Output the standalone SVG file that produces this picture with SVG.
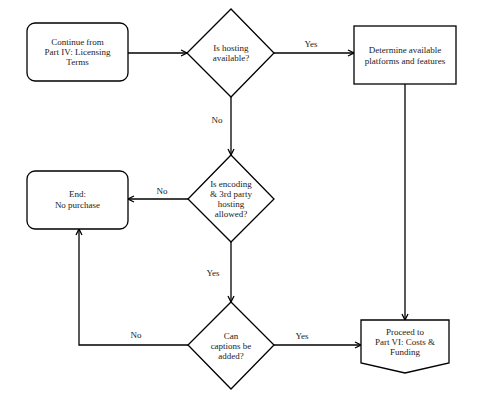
<svg xmlns="http://www.w3.org/2000/svg" width="479" height="404" viewBox="0 0 479 404">
<style>
.s{fill:#fff;stroke:#000;stroke-width:1.3}
.c{fill:none;stroke:#000;stroke-width:1.3}
text{font-family:"Liberation Serif","Times New Roman",serif;font-size:9px;fill:#222;text-anchor:middle}
</style>
<defs>
<marker id="a" markerWidth="8" markerHeight="8" refX="7" refY="4" orient="auto" markerUnits="userSpaceOnUse">
<path d="M1,1 L7,4 L1,7" fill="none" stroke="#000" stroke-width="1.3"/>
</marker>
</defs>
<rect width="479" height="404" fill="#fff"/>
<g id="connectors">
<line class="c" x1="128" y1="53" x2="187" y2="53" marker-end="url(#a)"/>
<line class="c" x1="274" y1="53" x2="354" y2="53" marker-end="url(#a)"/>
<text x="311" y="47">Yes</text>
<line class="c" x1="405" y1="84" x2="405" y2="320" marker-end="url(#a)"/>
<line class="c" x1="231" y1="97" x2="231" y2="155" marker-end="url(#a)"/>
<text x="217" y="123">No</text>
<line class="c" x1="188" y1="199" x2="128" y2="199" marker-end="url(#a)"/>
<text x="162" y="194">No</text>
<line class="c" x1="231" y1="242" x2="231" y2="302" marker-end="url(#a)"/>
<text x="213" y="276">Yes</text>
<polyline class="c" points="188,345 79,345 79,229" marker-end="url(#a)"/>
<text x="136" y="338">No</text>
<line class="c" x1="274" y1="345" x2="361" y2="345" marker-end="url(#a)"/>
<text x="302" y="339">Yes</text>
</g>
<g id="start">
<rect class="s" x="27" y="23" width="101" height="58" rx="8"/>
<text x="77.5" y="45">Continue from</text>
<text x="77.5" y="55">Part IV: Licensing</text>
<text x="77.5" y="65">Terms</text>
</g>
<g id="hosting">
<polygon class="s" points="231,9 274,53 231,97 187,53"/>
<text x="231" y="51">Is hosting</text>
<text x="231" y="61">available?</text>
</g>
<g id="determine">
<rect class="s" x="354" y="26" width="102" height="58"/>
<text x="405" y="53">Determine available</text>
<text x="405" y="64">platforms and features</text>
</g>
<g id="encoding">
<polygon class="s" points="231,155 274,199 231,242 188,199"/>
<text x="231" y="187">Is encoding</text>
<text x="231" y="197">&amp; 3rd party</text>
<text x="231" y="207">hosting</text>
<text x="231" y="217">allowed?</text>
</g>
<g id="end">
<rect class="s" x="27" y="171" width="101" height="58" rx="8"/>
<text x="77.5" y="197">End:</text>
<text x="77.5" y="208">No purchase</text>
</g>
<g id="captions">
<polygon class="s" points="231,302 274,345 231,389 188,345"/>
<text x="231" y="339">Can</text>
<text x="231" y="349">captions be</text>
<text x="231" y="359">added?</text>
</g>
<g id="proceed">
<polygon class="s" points="361,320 449,320 449,363 405,373 361,363"/>
<text x="405" y="335">Proceed to</text>
<text x="405" y="345">Part VI: Costs &amp;</text>
<text x="405" y="355">Funding</text>
</g>
</svg>
